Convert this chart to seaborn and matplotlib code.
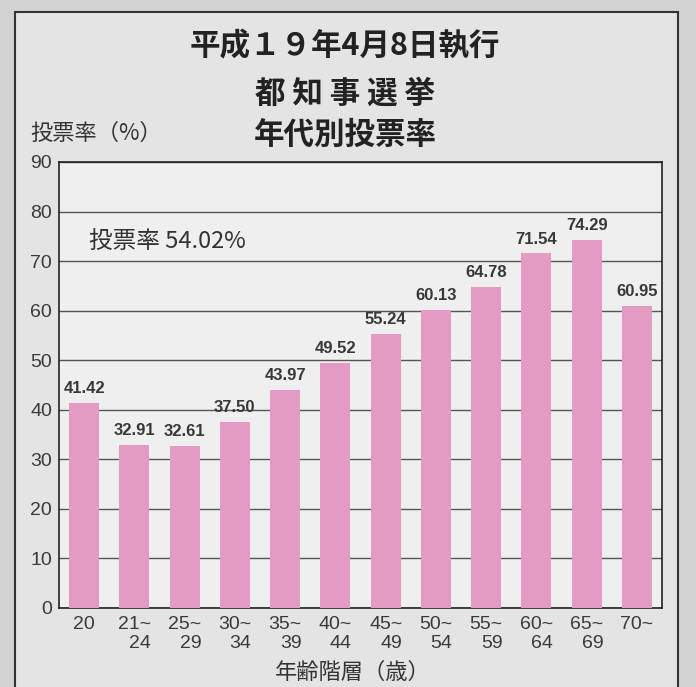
import matplotlib
matplotlib.use('Agg')
import matplotlib.pyplot as plt
import matplotlib.patches as mpatches
import pandas as pd
import seaborn as sns

# age groups and turnout (%) - Tokyo governor election, 2007-04-08
age_groups = ['20', '21~\n24', '25~\n29', '30~\n34', '35~\n39', '40~\n44',
              '45~\n49', '50~\n54', '55~\n59', '60~\n64', '65~\n69', '70~']
turnout = [41.42, 32.91, 32.61, 37.50, 43.97, 49.52,
           55.24, 60.13, 64.78, 71.54, 74.29, 60.95]
overall = 54.02
y_ticks = [0, 10, 20, 30, 40, 50, 60, 70, 80, 90]

df = pd.DataFrame({'age': age_groups, 'rate': turnout})

sns.set_style('white')
plt.rcParams['font.family'] = ['Noto Sans CJK JP', 'DejaVu Sans']

fig = plt.figure(figsize=(6.96, 6.87), dpi=100)
fig.patch.set_facecolor('#d2d2d2')

# outer newspaper box
box = mpatches.Rectangle((15 / 696, -0.01), (678 - 15) / 696, 1 - 12 / 687 + 0.01,
                         transform=fig.transFigure, facecolor='#e4e4e4',
                         edgecolor='#333333', linewidth=1.5, zorder=-5)
fig.patches.append(box)

ax = fig.add_axes([59 / 696, 1 - 608 / 687, (662 - 59) / 696, (608 - 162) / 687])
ax.set_zorder(2)
ax.set_facecolor('#efefef')

sns.barplot(data=df, x='age', y='rate', color='#e39bc3', width=0.6,
            saturation=1, linewidth=0, ax=ax, zorder=3)

ax.set_ylim(0, 90)
ax.set_yticks(y_ticks)
ax.yaxis.grid(True, color='#555555', linewidth=1, zorder=0)
ax.set_axisbelow(True)
for s in ax.spines.values():
    s.set_color('#222222')
    s.set_linewidth(1.2)

ax.tick_params(axis='both', length=0, labelsize=14, colors='#3a3a3a')
ax.tick_params(axis='y', pad=5)
ax.tick_params(axis='x', pad=6)
for lab in ax.get_xticklabels() + ax.get_yticklabels():
    lab.set_family(['Liberation Sans', 'DejaVu Sans'])
for lab in ax.get_xticklabels():
    lab.set_multialignment('right')
    lab.set_linespacing(1.15)

ax.set_xlabel('')
ax.set_ylabel('')

# value labels over bars
for i, v in enumerate(turnout):
    ax.annotate(f'{v:.2f}', (i, v), xytext=(0, 5), textcoords='offset points',
                ha='center', va='bottom', fontsize=12, fontweight='bold',
                family=['Liberation Sans', 'DejaVu Sans'], color='#383838')

ax.text(0.1, 74, f'投票率 {overall:.2f}%', fontsize=17, color='#333333',
        va='center', ha='left')

# titles
fig.text(0.496, 1 - 46 / 687, '平成１９年4月8日執行', fontsize=22,
         fontweight='bold', ha='center', va='center', color='#222222')
fig.text(0.496, 1 - 94 / 687, '都 知 事 選 挙', fontsize=22,
         fontweight='bold', ha='center', va='center', color='#222222')
fig.text(0.496, 1 - 135 / 687, '年代別投票率', fontsize=22,
         fontweight='bold', ha='center', va='center', color='#222222')

fig.text(30 / 696, 1 - 133 / 687, '投票率（%）', fontsize=16,
         ha='left', va='center', color='#333333')
fig.text(353 / 696, 1 - 672 / 687, '年齢階層（歳）', fontsize=16,
         ha='center', va='center', color='#333333')

fig.savefig('out.png', dpi=100, facecolor=fig.get_facecolor())
